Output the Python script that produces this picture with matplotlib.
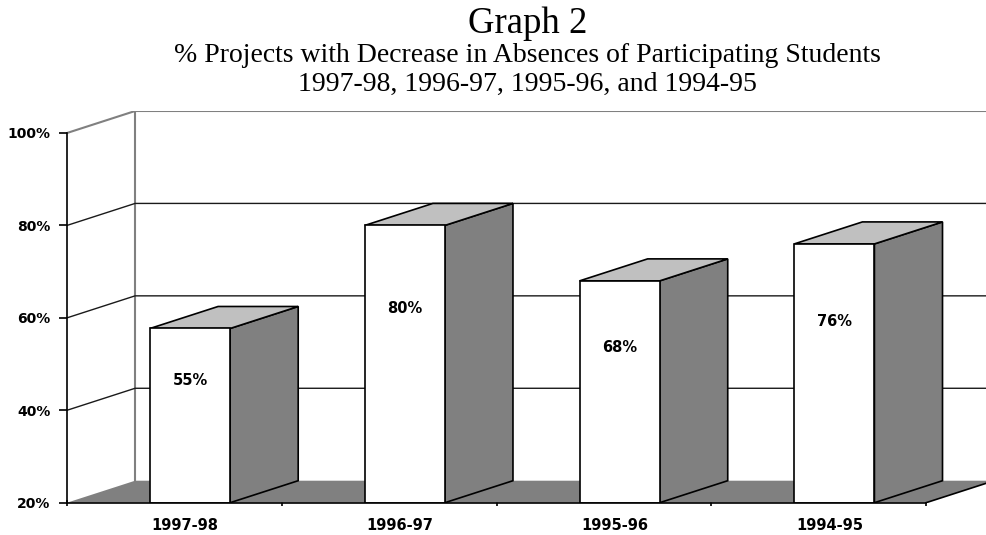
import matplotlib.pyplot as plt
from matplotlib.patches import Polygon

# data
seasons = ['1997-98', '1996-97', '1995-96', '1994-95']
bar_heights = [57.7, 80, 68, 76]
bar_labels = ['55%', '80%', '68%', '76%']
y_ticks = [20, 40, 60, 80, 100]
y_tick_labels = ['20%', '40%', '60%', '80%', '100%']

# fake 3d look (oblique offsets, in data units)
DX = 0.317
DY = 4.76
BAR_W = 0.373
BAR_SHIFT = 0.073
X_END = 4.279

WALL = '#808080'
GRID = '#1a1a1a'
SIDE = '#808080'
TOP = '#c0c0c0'
LW = 1.2

fig = plt.figure(figsize=(9.86, 5.35), dpi=100)
ax = fig.add_axes([67 / 986, 32.3 / 535, 919 / 986, 391.7 / 535])
ax.set_xlim(0, X_END)
ax.set_ylim(20, 100 + DY)

# back wall
ax.plot([DX, DX], [20 + DY, 100 + DY], color=WALL, lw=1.5, zorder=1)
ax.plot([0, DX, X_END], [100, 100 + DY, 100 + DY], color=WALL, lw=1.5, zorder=1)
for v in y_ticks[1:-1]:
    ax.plot([0, DX, X_END], [v, v + DY, v + DY], color=GRID, lw=1, zorder=1)

# floor
floor = Polygon([(0, 20), (4, 20), (4 + DX, 20 + DY), (DX, 20 + DY)],
                closed=True, fc=WALL, ec='none', zorder=2)
ax.add_patch(floor)
ax.plot([4, 4 + DX], [20, 20 + DY], color='black', lw=LW, zorder=2)

# bars
for i, h in enumerate(bar_heights):
    x0 = i + 0.5 + BAR_SHIFT - BAR_W / 2
    x1 = x0 + BAR_W
    z = 3 + i
    side = Polygon([(x1, 20), (x1 + DX, 20 + DY), (x1 + DX, h + DY), (x1, h)],
                   closed=True, fc=SIDE, ec='black', lw=LW, zorder=z)
    top = Polygon([(x0, h), (x1, h), (x1 + DX, h + DY), (x0 + DX, h + DY)],
                  closed=True, fc=TOP, ec='black', lw=LW, zorder=z)
    front = Polygon([(x0, 20), (x1, 20), (x1, h), (x0, h)],
                    closed=True, fc='white', ec='black', lw=LW, zorder=z)
    ax.add_patch(side)
    ax.add_patch(top)
    ax.add_patch(front)
    ax.text((x0 + x1) / 2, h - 0.3 * (h - 20), bar_labels[i], ha='center', va='center',
            fontsize=10.5, fontweight='bold', family='DejaVu Sans', zorder=z + 0.5)

# front axes
for s in ['top', 'right']:
    ax.spines[s].set_visible(False)
ax.spines['left'].set_bounds(20, 100)
ax.spines['bottom'].set_bounds(0, 4)
for s in ['left', 'bottom']:
    ax.spines[s].set_linewidth(LW)
    ax.spines[s].set_zorder(10)

ax.set_yticks(y_ticks)
ax.set_yticklabels(y_tick_labels, fontsize=10, fontweight='bold', family='DejaVu Sans')
ax.tick_params(axis='y', length=6, width=LW, pad=6)

ax.set_xticks(range(5))
ax.set_xticklabels([])
ax.tick_params(axis='x', which='major', direction='inout', length=5, width=LW)
ax.set_xticks([i + 0.55 for i in range(len(seasons))], minor=True)
ax.set_xticklabels(seasons, minor=True, fontsize=10.5, fontweight='bold', family='DejaVu Sans')
ax.tick_params(axis='x', which='minor', length=0, pad=11)

# titles
fig.text(0.535, 1 - 33 / 535, 'Graph 2', ha='center', va='baseline',
         fontsize=26.5, family='Liberation Serif')
fig.text(0.535, 1 - 62 / 535, '% Projects with Decrease in Absences of Participating Students',
         ha='center', va='baseline', fontsize=20, family='Liberation Serif')
fig.text(0.535, 1 - 91 / 535, '1997-98, 1996-97, 1995-96, and 1994-95',
         ha='center', va='baseline', fontsize=20, family='Liberation Serif')

fig.savefig('out.png', dpi=100)
